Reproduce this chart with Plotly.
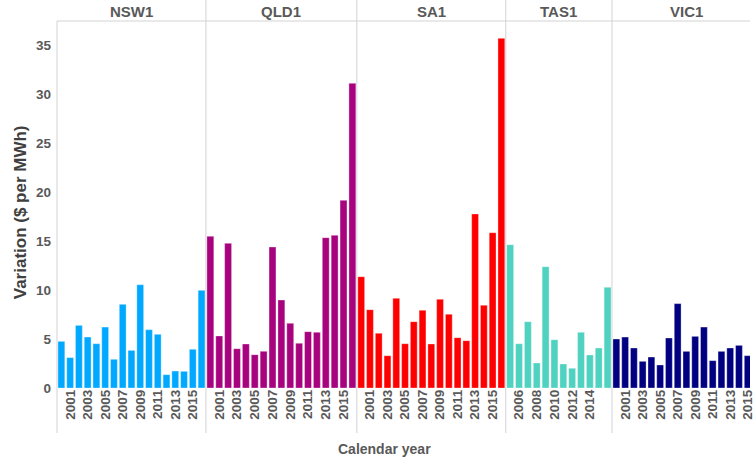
import plotly.graph_objects as go

# ---- data ----
regions = ["NSW1", "QLD1", "SA1", "TAS1", "VIC1"]

years_nsw = [2000, 2001, 2002, 2003, 2004, 2005, 2006, 2007, 2008, 2009, 2010, 2011, 2012, 2013, 2014, 2015, 2016]
nsw1 = [4.76, 3.10, 6.39, 5.20, 4.52, 6.22, 2.93, 8.54, 3.84, 10.54, 5.95, 5.48, 1.36, 1.73, 1.70, 3.95, 9.97]

years_qld = [2000, 2001, 2002, 2003, 2004, 2005, 2006, 2007, 2008, 2009, 2010, 2011, 2012, 2013, 2014, 2015, 2016]
qld1 = [15.48, 5.31, 14.76, 4.01, 4.49, 3.40, 3.74, 14.39, 8.98, 6.60, 4.56, 5.75, 5.68, 15.34, 15.58, 19.15, 31.09]

years_sa = [2000, 2001, 2002, 2003, 2004, 2005, 2006, 2007, 2008, 2009, 2010, 2011, 2012, 2013, 2014, 2015, 2016]
sa1 = [11.36, 7.99, 5.58, 3.30, 9.15, 4.52, 6.77, 7.93, 4.49, 9.05, 7.52, 5.14, 4.83, 17.76, 8.44, 15.85, 35.68]

years_tas = [2005, 2006, 2007, 2008, 2009, 2010, 2011, 2012, 2013, 2014, 2015, 2016]
tas1 = [14.63, 4.52, 6.77, 2.55, 12.38, 4.93, 2.45, 2.01, 5.68, 3.37, 4.08, 10.27]

years_vic = [2000, 2001, 2002, 2003, 2004, 2005, 2006, 2007, 2008, 2009, 2010, 2011, 2012, 2013, 2014, 2015]
vic1 = [5.00, 5.20, 4.08, 2.72, 3.16, 2.35, 5.10, 8.61, 3.74, 5.27, 6.22, 2.79, 3.74, 4.08, 4.35, 3.30]

ticks_17 = [2001, 2003, 2005, 2007, 2009, 2011, 2013, 2015]
ticks_tas = [2006, 2008, 2010, 2012, 2014]
y_ticks = [0, 5, 10, 15, 20, 25, 30, 35]

colors = ["#00A9FF", "#A8037F", "#FF0000", "#50D2C0", "#000080"]

# ---- layout geometry (pixels) ----
W, H = 755, 457
L, R, T, B = 57, 0, 21, 69
pw = W - L - R
ph = H - T - B
edges_px = [57, 207, 359, 509, 616, 755]
doms = [[(edges_px[i] - L) / pw, (edges_px[i + 1] - L) / pw] for i in range(5)]
ranges = [[1999.5, 2016.5], [1999.5, 2016.5], [1999.5, 2016.5], [2004.5, 2016.5], [1999.5, 2015.26]]
tickvals = [ticks_17, ticks_17, ticks_17, ticks_tas, ticks_17]

series = [(years_nsw, nsw1), (years_qld, qld1), (years_sa, sa1), (years_tas, tas1), (years_vic, vic1)]

txt = "#595959"
tfont = dict(family="Liberation Sans", size=13.5, color=txt, weight="bold")

fig = go.Figure()
for i, (yrs, vals) in enumerate(series):
    xa = "x" if i == 0 else f"x{i+1}"
    fig.add_trace(go.Bar(
        x=yrs, y=vals, xaxis=xa, yaxis="y",
        marker=dict(color=colors[i], line=dict(color="rgba(255,255,255,0.55)", width=0.6)),
        showlegend=False,
    ))

layout = dict(
    width=W, height=H,
    margin=dict(l=L, r=R, t=T, b=B, pad=0),
    paper_bgcolor="white", plot_bgcolor="white",
    bargap=0.22,
    yaxis=dict(range=[0, 37.45], tickvals=y_ticks, showgrid=False, zeroline=False,
               showline=False, ticks="", tickfont=tfont, ticklabelstandoff=5,
               anchor="x"),
)
for i in range(5):
    key = "xaxis" if i == 0 else f"xaxis{i+1}"
    layout[key] = dict(domain=doms[i], range=ranges[i], tickvals=tickvals[i],
                       ticktext=[str(v) for v in tickvals[i]],
                       tickangle=-90, tickfont=tfont, showgrid=False, zeroline=False,
                       showline=False, ticks="", anchor="y", ticklabelstandoff=-2,
                       ticklabeloverflow="allow")
fig.update_layout(**layout)

def py(pix):
    return (H - B - pix) / ph

def px(pix):
    return (pix - L) / pw

line_c = "#d3d3d3"
shapes = []
shapes.append(dict(type="line", xref="paper", yref="paper", x0=0, x1=1, y0=1, y1=1,
                   line=dict(color=line_c, width=1)))
shapes.append(dict(type="line", xref="paper", yref="paper", x0=0, x1=0, y0=1, y1=py(433),
                   line=dict(color=line_c, width=1)))
for e in edges_px[1:-1]:
    shapes.append(dict(type="line", xref="paper", yref="paper", x0=px(e), x1=px(e),
                       y0=py(0), y1=py(433), line=dict(color=line_c, width=1)))
fig.update_layout(shapes=shapes)

hfont = dict(family="Liberation Sans", size=15, color=txt, weight="bold")
ann = []
for i, r in enumerate(regions):
    cx = (doms[i][0] + doms[i][1]) / 2 if i < 4 else px(691)
    ann.append(dict(text=r, x=cx, y=py(12), xref="paper", yref="paper", showarrow=False,
                    xanchor="center", yanchor="middle", font=hfont))
ann.append(dict(text="Calendar year", x=px(387), y=py(449), xref="paper", yref="paper",
                showarrow=False, xanchor="center", yanchor="middle",
                font=dict(family="Liberation Sans", size=14, color=txt, weight="bold")))
ann.append(dict(text="Variation ($ per MWh)", x=px(20), y=py(212), xref="paper", yref="paper",
                showarrow=False, xanchor="center", yanchor="middle", textangle=-90,
                font=dict(family="Liberation Sans", size=17, color="#404040", weight="bold")))
fig.update_layout(annotations=ann)

fig.write_html("out.html", config={"displayModeBar": False},
               post_script="document.body.style.margin='0px';")
